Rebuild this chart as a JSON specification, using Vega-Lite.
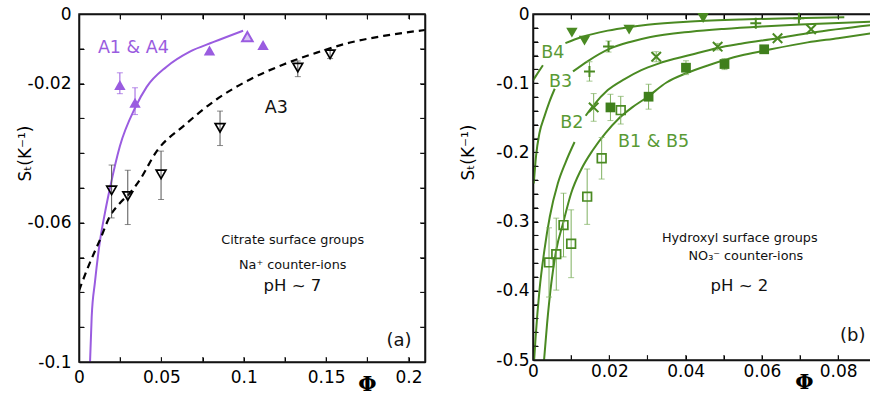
{
  "$schema": "https://vega.github.io/schema/vega-lite/v6.json",
  "background": "white",
  "padding": {"left": 16, "top": 5, "right": 0, "bottom": 0},
  "spacing": 33,
  "datasets": {
    "pts": [
      {"p":"a","s":"A1","x":0.0248,"y":-0.0204,"lo":-0.0229,"hi":-0.0169},
      {"p":"a","s":"A1","x":0.034,"y":-0.0255,"lo":-0.0289,"hi":-0.0212},
      {"p":"a","s":"A1","x":0.0792,"y":-0.0105},
      {"p":"a","s":"A1","x":0.1117,"y":-0.0089},
      {"p":"a","s":"A4","x":0.1022,"y":-0.0065},
      {"p":"a","s":"A3","x":0.0198,"y":-0.0507,"lo":-0.0586,"hi":-0.0434},
      {"p":"a","s":"A3","x":0.0296,"y":-0.0523,"lo":-0.0605,"hi":-0.0449},
      {"p":"a","s":"A3","x":0.0498,"y":-0.0461,"lo":-0.0533,"hi":-0.0394},
      {"p":"a","s":"A3","x":0.0856,"y":-0.0327,"lo":-0.0378,"hi":-0.0279},
      {"p":"a","s":"A3","x":0.1328,"y":-0.0154,"lo":-0.018,"hi":-0.0135},
      {"p":"a","s":"A3","x":0.1524,"y":-0.0116,"lo":-0.0128,"hi":-0.0104},
      {"p":"b","s":"B4","x":0.0102,"y":-0.027},
      {"p":"b","s":"B4","x":0.0135,"y":-0.0385},
      {"p":"b","s":"B4","x":0.0252,"y":-0.0225},
      {"p":"b","s":"B4","x":0.0446,"y":-0.0058},
      {"p":"b","s":"B3","x":0.0148,"y":-0.083,"lo":-0.097,"hi":-0.069},
      {"p":"b","s":"B3","x":0.0198,"y":-0.047,"lo":-0.055,"hi":-0.039},
      {"p":"b","s":"B3","x":0.0584,"y":-0.0135},
      {"p":"b","s":"B3","x":0.0697,"y":-0.006},
      {"p":"b","s":"B2","x":0.0159,"y":-0.135,"lo":-0.155,"hi":-0.115},
      {"p":"b","s":"B2","x":0.0323,"y":-0.0617,"lo":-0.069,"hi":-0.0545},
      {"p":"b","s":"B2","x":0.0484,"y":-0.0472,"lo":-0.052,"hi":-0.0425},
      {"p":"b","s":"B2","x":0.0641,"y":-0.0351},
      {"p":"b","s":"B2","x":0.0729,"y":-0.0221},
      {"p":"b","s":"B1","x":0.0203,"y":-0.135,"lo":-0.154,"hi":-0.116},
      {"p":"b","s":"B1","x":0.0303,"y":-0.1195,"lo":-0.1375,"hi":-0.1015},
      {"p":"b","s":"B1","x":0.0401,"y":-0.0776,"lo":-0.0876,"hi":-0.0676},
      {"p":"b","s":"B1","x":0.0502,"y":-0.0723,"lo":-0.0803,"hi":-0.0643},
      {"p":"b","s":"B1","x":0.0606,"y":-0.051,"lo":-0.055,"hi":-0.047},
      {"p":"b","s":"B5","x":0.0042,"y":-0.359,"lo":-0.409,"hi":-0.309},
      {"p":"b","s":"B5","x":0.0061,"y":-0.347,"lo":-0.399,"hi":-0.295},
      {"p":"b","s":"B5","x":0.008,"y":-0.305,"lo":-0.351,"hi":-0.259},
      {"p":"b","s":"B5","x":0.01,"y":-0.332,"lo":-0.381,"hi":-0.283},
      {"p":"b","s":"B5","x":0.0142,"y":-0.264,"lo":-0.304,"hi":-0.224},
      {"p":"b","s":"B5","x":0.018,"y":-0.2085,"lo":-0.2385,"hi":-0.1785},
      {"p":"b","s":"B5","x":0.023,"y":-0.139,"lo":-0.159,"hi":-0.119}
    ],
    "ticks": [
      {"p":"a","ax":"x","v":0.025},{"p":"a","ax":"x","v":0.05},{"p":"a","ax":"x","v":0.075},{"p":"a","ax":"x","v":0.1},
      {"p":"a","ax":"x","v":0.125},{"p":"a","ax":"x","v":0.15},{"p":"a","ax":"x","v":0.175},{"p":"a","ax":"x","v":0.2},
      {"p":"a","ax":"y","v":-0.01},{"p":"a","ax":"y","v":-0.02},{"p":"a","ax":"y","v":-0.03},{"p":"a","ax":"y","v":-0.04},
      {"p":"a","ax":"y","v":-0.05},{"p":"a","ax":"y","v":-0.06},{"p":"a","ax":"y","v":-0.07},{"p":"a","ax":"y","v":-0.08},
      {"p":"a","ax":"y","v":-0.09},
      {"p":"b","ax":"x","v":0.01},{"p":"b","ax":"x","v":0.02},{"p":"b","ax":"x","v":0.03},{"p":"b","ax":"x","v":0.04},
      {"p":"b","ax":"x","v":0.05},{"p":"b","ax":"x","v":0.06},{"p":"b","ax":"x","v":0.07},{"p":"b","ax":"x","v":0.08},
      {"p":"b","ax":"y","v":-0.02},{"p":"b","ax":"y","v":-0.04},{"p":"b","ax":"y","v":-0.06},{"p":"b","ax":"y","v":-0.08},
      {"p":"b","ax":"y","v":-0.1},{"p":"b","ax":"y","v":-0.12},{"p":"b","ax":"y","v":-0.14},{"p":"b","ax":"y","v":-0.16},
      {"p":"b","ax":"y","v":-0.18},{"p":"b","ax":"y","v":-0.2},{"p":"b","ax":"y","v":-0.22},{"p":"b","ax":"y","v":-0.24},
      {"p":"b","ax":"y","v":-0.26},{"p":"b","ax":"y","v":-0.28},{"p":"b","ax":"y","v":-0.3},{"p":"b","ax":"y","v":-0.32},
      {"p":"b","ax":"y","v":-0.34},{"p":"b","ax":"y","v":-0.36},{"p":"b","ax":"y","v":-0.38},{"p":"b","ax":"y","v":-0.4},
      {"p":"b","ax":"y","v":-0.42},{"p":"b","ax":"y","v":-0.44},{"p":"b","ax":"y","v":-0.46},{"p":"b","ax":"y","v":-0.48}
    ],
    "frames": [
      {"p":"a","x0":0,"x1":0.21,"y0":-0.1,"y1":0},
      {"p":"b","x0":0,"x1":0.0886,"y0":-0.5,"y1":0}
    ],
    "curves": [
      {"p":"a","seg":"A1","x":0.0067,"y":-0.1},
      {"p":"a","seg":"A1","x":0.0077,"y":-0.087},
      {"p":"a","seg":"A1","x":0.0097,"y":-0.077},
      {"p":"a","seg":"A1","x":0.0128,"y":-0.065},
      {"p":"a","seg":"A1","x":0.0158,"y":-0.057},
      {"p":"a","seg":"A1","x":0.0188,"y":-0.050},
      {"p":"a","seg":"A1","x":0.0248,"y":-0.038},
      {"p":"a","seg":"A1","x":0.034,"y":-0.027},
      {"p":"a","seg":"A1","x":0.041,"y":-0.021},
      {"p":"a","seg":"A1","x":0.053,"y":-0.0152},
      {"p":"a","seg":"A1","x":0.0673,"y":-0.0108},
      {"p":"a","seg":"A1","x":0.0814,"y":-0.0081},
      {"p":"a","seg":"A1","x":0.0996,"y":-0.0048},
      {"p":"a","seg":"A3","x":0.0,"y":-0.0795},
      {"p":"a","seg":"A3","x":0.0057,"y":-0.0725},
      {"p":"a","seg":"A3","x":0.0128,"y":-0.0648},
      {"p":"a","seg":"A3","x":0.0188,"y":-0.0581},
      {"p":"a","seg":"A3","x":0.0249,"y":-0.0543},
      {"p":"a","seg":"A3","x":0.031,"y":-0.0514},
      {"p":"a","seg":"A3","x":0.037,"y":-0.0476},
      {"p":"a","seg":"A3","x":0.0472,"y":-0.0394},
      {"p":"a","seg":"A3","x":0.0634,"y":-0.0322},
      {"p":"a","seg":"A3","x":0.0836,"y":-0.0245},
      {"p":"a","seg":"A3","x":0.1038,"y":-0.0188},
      {"p":"a","seg":"A3","x":0.1241,"y":-0.0145},
      {"p":"a","seg":"A3","x":0.1443,"y":-0.0111},
      {"p":"a","seg":"A3","x":0.1646,"y":-0.0082},
      {"p":"a","seg":"A3","x":0.1848,"y":-0.0063},
      {"p":"a","seg":"A3","x":0.21,"y":-0.0046},
      {"p":"b","seg":"B4a","x":0.0,"y":-0.096},
      {"p":"b","seg":"B4a","x":0.0013,"y":-0.085},
      {"p":"b","seg":"B4a","x":0.0026,"y":-0.074},
      {"p":"b","seg":"B4b","x":0.0085,"y":-0.042},
      {"p":"b","seg":"B4b","x":0.0126,"y":-0.0335},
      {"p":"b","seg":"B4b","x":0.0196,"y":-0.024},
      {"p":"b","seg":"B4b","x":0.025,"y":-0.019},
      {"p":"b","seg":"B4b","x":0.03,"y":-0.0155},
      {"p":"b","seg":"B4b","x":0.0414,"y":-0.0108},
      {"p":"b","seg":"B4b","x":0.0545,"y":-0.0078},
      {"p":"b","seg":"B4b","x":0.068,"y":-0.006},
      {"p":"b","seg":"B4b","x":0.0816,"y":-0.0048},
      {"p":"b","seg":"B3a","x":0.0002,"y":-0.245},
      {"p":"b","seg":"B3a","x":0.0008,"y":-0.205},
      {"p":"b","seg":"B3a","x":0.0017,"y":-0.172},
      {"p":"b","seg":"B3a","x":0.003,"y":-0.148},
      {"p":"b","seg":"B3a","x":0.0043,"y":-0.127},
      {"p":"b","seg":"B3a","x":0.0057,"y":-0.108},
      {"p":"b","seg":"B3b","x":0.0105,"y":-0.083},
      {"p":"b","seg":"B3b","x":0.0144,"y":-0.068},
      {"p":"b","seg":"B3b","x":0.020,"y":-0.0505},
      {"p":"b","seg":"B3b","x":0.0257,"y":-0.040},
      {"p":"b","seg":"B3b","x":0.0305,"y":-0.0335},
      {"p":"b","seg":"B3b","x":0.0414,"y":-0.0255},
      {"p":"b","seg":"B3b","x":0.05,"y":-0.0215},
      {"p":"b","seg":"B3b","x":0.06,"y":-0.018},
      {"p":"b","seg":"B3b","x":0.07,"y":-0.0152},
      {"p":"b","seg":"B3b","x":0.08,"y":-0.013},
      {"p":"b","seg":"B3b","x":0.0886,"y":-0.0113},
      {"p":"b","seg":"B2a","x":0.0003,"y":-0.5},
      {"p":"b","seg":"B2a","x":0.0007,"y":-0.466},
      {"p":"b","seg":"B2a","x":0.0017,"y":-0.399},
      {"p":"b","seg":"B2a","x":0.003,"y":-0.341},
      {"p":"b","seg":"B2a","x":0.0044,"y":-0.293},
      {"p":"b","seg":"B2a","x":0.0065,"y":-0.245},
      {"p":"b","seg":"B2a","x":0.0085,"y":-0.215},
      {"p":"b","seg":"B2a","x":0.0109,"y":-0.185},
      {"p":"b","seg":"B2b","x":0.0138,"y":-0.147},
      {"p":"b","seg":"B2b","x":0.0157,"y":-0.133},
      {"p":"b","seg":"B2b","x":0.0196,"y":-0.11},
      {"p":"b","seg":"B2b","x":0.024,"y":-0.094},
      {"p":"b","seg":"B2b","x":0.0284,"y":-0.081},
      {"p":"b","seg":"B2b","x":0.0327,"y":-0.072},
      {"p":"b","seg":"B2b","x":0.0414,"y":-0.059},
      {"p":"b","seg":"B2b","x":0.0484,"y":-0.049},
      {"p":"b","seg":"B2b","x":0.0545,"y":-0.043},
      {"p":"b","seg":"B2b","x":0.0641,"y":-0.035},
      {"p":"b","seg":"B2b","x":0.0729,"y":-0.027},
      {"p":"b","seg":"B2b","x":0.0886,"y":-0.016},
      {"p":"b","seg":"B1","x":0.0029,"y":-0.5},
      {"p":"b","seg":"B1","x":0.0037,"y":-0.447},
      {"p":"b","seg":"B1","x":0.0048,"y":-0.389},
      {"p":"b","seg":"B1","x":0.0061,"y":-0.341},
      {"p":"b","seg":"B1","x":0.0079,"y":-0.302},
      {"p":"b","seg":"B1","x":0.01,"y":-0.259},
      {"p":"b","seg":"B1","x":0.0126,"y":-0.225},
      {"p":"b","seg":"B1","x":0.0157,"y":-0.1965},
      {"p":"b","seg":"B1","x":0.019,"y":-0.172},
      {"p":"b","seg":"B1","x":0.0223,"y":-0.152},
      {"p":"b","seg":"B1","x":0.026,"y":-0.135},
      {"p":"b","seg":"B1","x":0.03,"y":-0.12},
      {"p":"b","seg":"B1","x":0.035,"y":-0.099},
      {"p":"b","seg":"B1","x":0.04,"y":-0.086},
      {"p":"b","seg":"B1","x":0.046,"y":-0.074},
      {"p":"b","seg":"B1","x":0.0545,"y":-0.060},
      {"p":"b","seg":"B1","x":0.0606,"y":-0.053},
      {"p":"b","seg":"B1","x":0.072,"y":-0.041},
      {"p":"b","seg":"B1","x":0.08,"y":-0.035},
      {"p":"b","seg":"B1","x":0.0886,"y":-0.028}
    ],
    "labels": [
      {"p":"a","k":"A1","t":"A1 & A4","x":0.033,"y":-0.0098},
      {"p":"a","k":"A3","t":"A3","x":0.1198,"y":-0.0269},
      {"p":"a","k":"note","t":"Citrate surface groups","x":0.1297,"y":-0.065},
      {"p":"a","k":"note","t":"Na⁺ counter-ions","x":0.1297,"y":-0.0721},
      {"p":"a","k":"ph","t":"pH ~ 7","x":0.1295,"y":-0.0782},
      {"p":"a","k":"panel","t":"(a)","x":0.1942,"y":-0.094},
      {"p":"b","k":"series","t":"B4","x":0.0052,"y":-0.0568},
      {"p":"b","k":"series","t":"B3","x":0.0072,"y":-0.0978},
      {"p":"b","k":"series","t":"B2","x":0.0102,"y":-0.158},
      {"p":"b","k":"series","t":"B1 & B5","x":0.0316,"y":-0.1845},
      {"p":"b","k":"note","t":"Hydroxyl surface groups","x":0.0542,"y":-0.324},
      {"p":"b","k":"note","t":"NO₃⁻ counter-ions","x":0.0558,"y":-0.35},
      {"p":"b","k":"ph","t":"pH ~ 2","x":0.0541,"y":-0.393},
      {"p":"b","k":"panel","t":"(b)","x":0.0838,"y":-0.466}
    ]
  },
  "hconcat": [
    {
      "width": 346,
      "height": 348,
      "layer": [
        {
          "data": {"name": "curves"},
          "transform": [{"filter": "datum.seg=='A1'"}],
          "mark": {"type": "line", "clip": true, "strokeWidth": 2, "color": "#9a5ce0", "interpolate": "monotone"},
          "encoding": {
            "x": {"field": "x", "type": "quantitative", "scale": {"domain": [0, 0.21], "nice": false, "zero": false},
              "axis": {"orient": "bottom", "values": [0,0.025,0.05,0.075,0.1,0.125,0.15,0.175,0.2],
                "labelExpr": "round(datum.value*1000)%50==0 ? toString(round(datum.value*100)/100) : ''",
                "labelFontSize": 17, "labelPadding": 12,
                "title": "Φ", "titleX": 288, "titleY": 22}},
            "y": {"field": "y", "type": "quantitative", "scale": {"domain": [-0.1, 0], "nice": false, "zero": false},
              "axis": {"orient": "left", "values": [0,-0.01,-0.02,-0.03,-0.04,-0.05,-0.06,-0.07,-0.08,-0.09,-0.1],
                "labelExpr": "(round(datum.value*100)==0 || round(datum.value*100)==-2 || round(datum.value*100)==-6 || round(datum.value*100)==-10) ? toString(round(datum.value*100)/100) : ''",
                "labelFontSize": 17, "labelPadding": 13,
                "title": "Sₜ(K⁻¹)", "titleX": -54, "titleY": 139}}
          }
        },
        {
          "data": {"name": "curves"},
          "transform": [{"filter": "datum.seg=='A3'"}],
          "mark": {"type": "line", "clip": true, "strokeWidth": 2.2, "color": "black", "strokeDash": [7, 5], "interpolate": "monotone"},
          "encoding": {
            "x": {"field": "x", "type": "quantitative", "scale": {"domain": [0, 0.21], "nice": false, "zero": false},
              "axis": {"orient": "top", "labels": false, "title": null, "values": [0,0.025,0.05,0.075,0.1,0.125,0.15,0.175,0.2]}},
            "y": {"field": "y", "type": "quantitative", "scale": {"domain": [-0.1, 0], "nice": false, "zero": false},
              "axis": {"orient": "right", "labels": false, "title": null, "values": [0,-0.01,-0.02,-0.03,-0.04,-0.05,-0.06,-0.07,-0.08,-0.09,-0.1]}}
          }
        },
        {
          "data": {"name": "frames"},
          "transform": [{"filter": "datum.p=='a'"}],
          "mark": {"type": "rect", "fill": null, "fillOpacity": 0, "stroke": "#1a1a1a", "strokeWidth": 1.5},
          "encoding": {
            "x": {"field": "x0", "type": "quantitative", "axis": null},
            "x2": {"field": "x1"},
            "y": {"field": "y0", "type": "quantitative", "axis": null},
            "y2": {"field": "y1"}
          }
        },
        {
          "data": {"name": "ticks"},
          "transform": [{"filter": "datum.p=='a' && datum.ax=='x'"}],
          "mark": {"type": "tick", "orient": "vertical", "size": 5, "thickness": 1.2, "color": "#1a1a1a", "yOffset": -2.5},
          "encoding": {
            "x": {"field": "v", "type": "quantitative", "axis": null},
            "y": {"datum": -0.1, "type": "quantitative", "axis": null}
          }
        },
        {
          "data": {"name": "ticks"},
          "transform": [{"filter": "datum.p=='a' && datum.ax=='x'"}],
          "mark": {"type": "tick", "orient": "vertical", "size": 5, "thickness": 1.2, "color": "#1a1a1a", "yOffset": 2.5},
          "encoding": {
            "x": {"field": "v", "type": "quantitative", "axis": null},
            "y": {"datum": 0, "type": "quantitative", "axis": null}
          }
        },
        {
          "data": {"name": "ticks"},
          "transform": [{"filter": "datum.p=='a' && datum.ax=='y'"}],
          "mark": {"type": "tick", "orient": "horizontal", "size": 5, "thickness": 1.2, "color": "#1a1a1a", "xOffset": 2.5},
          "encoding": {
            "x": {"datum": 0, "type": "quantitative", "axis": null},
            "y": {"field": "v", "type": "quantitative", "axis": null}
          }
        },
        {
          "data": {"name": "ticks"},
          "transform": [{"filter": "datum.p=='a' && datum.ax=='y'"}],
          "mark": {"type": "tick", "orient": "horizontal", "size": 5, "thickness": 1.2, "color": "#1a1a1a", "xOffset": -2.5},
          "encoding": {
            "x": {"datum": 0.21, "type": "quantitative", "axis": null},
            "y": {"field": "v", "type": "quantitative", "axis": null}
          }
        },
        {
          "data": {"name": "pts"},
          "transform": [{"filter": "datum.p=='a' && isValid(datum.lo)"}],
          "mark": {"type": "rule", "strokeWidth": 1},
          "encoding": {
            "x": {"field": "x", "type": "quantitative", "axis": null},
            "y": {"field": "lo", "type": "quantitative", "axis": null},
            "y2": {"field": "hi"},
            "color": {"condition": {"test": "datum.s=='A3'", "value": "#555555"}, "value": "#9a5ce0"}
          }
        },
        {
          "data": {"name": "pts"},
          "transform": [{"filter": "datum.p=='a' && isValid(datum.lo)"}],
          "mark": {"type": "tick", "orient": "horizontal", "size": 6, "thickness": 1},
          "encoding": {
            "x": {"field": "x", "type": "quantitative", "axis": null},
            "y": {"field": "lo", "type": "quantitative", "axis": null},
            "color": {"condition": {"test": "datum.s=='A3'", "value": "#555555"}, "value": "#9a5ce0"}
          }
        },
        {
          "data": {"name": "pts"},
          "transform": [{"filter": "datum.p=='a' && isValid(datum.lo)"}],
          "mark": {"type": "tick", "orient": "horizontal", "size": 6, "thickness": 1},
          "encoding": {
            "x": {"field": "x", "type": "quantitative", "axis": null},
            "y": {"field": "hi", "type": "quantitative", "axis": null},
            "color": {"condition": {"test": "datum.s=='A3'", "value": "#555555"}, "value": "#9a5ce0"}
          }
        },
        {
          "data": {"name": "pts"},
          "transform": [{"filter": "datum.s=='A1'"}],
          "mark": {"type": "point", "shape": "triangle-up", "filled": true, "color": "#9a5ce0", "size": 130, "opacity": 1},
          "encoding": {
            "x": {"field": "x", "type": "quantitative", "axis": null},
            "y": {"field": "y", "type": "quantitative", "axis": null}
          }
        },
        {
          "data": {"name": "pts"},
          "transform": [{"filter": "datum.s=='A4'"}],
          "mark": {"type": "point", "shape": "triangle-up", "filled": true, "fill": "#d9c3f5", "stroke": "#9a5ce0", "strokeWidth": 2, "size": 110, "opacity": 1},
          "encoding": {
            "x": {"field": "x", "type": "quantitative", "axis": null},
            "y": {"field": "y", "type": "quantitative", "axis": null}
          }
        },
        {
          "data": {"name": "pts"},
          "transform": [{"filter": "datum.s=='A3'"}],
          "mark": {"type": "point", "shape": "triangle-down", "filled": false, "color": "black", "strokeWidth": 1.7, "size": 95, "opacity": 1},
          "encoding": {
            "x": {"field": "x", "type": "quantitative", "axis": null},
            "y": {"field": "y", "type": "quantitative", "axis": null}
          }
        },
        {
          "data": {"name": "labels"},
          "transform": [{"filter": "datum.p=='a'"}],
          "mark": {"type": "text", "font": "DejaVu Sans", "align": "center", "baseline": "middle"},
          "encoding": {
            "x": {"field": "x", "type": "quantitative", "axis": null},
            "y": {"field": "y", "type": "quantitative", "axis": null},
            "text": {"field": "t"},
            "color": {"condition": {"test": "datum.k=='A1'", "value": "#9a5ce0"}, "value": "#111111"},
            "size": {"condition": [{"test": "datum.k=='note'", "value": 12.8}, {"test": "datum.k=='ph'", "value": 16.5}, {"test": "datum.k=='panel'", "value": 18}], "value": 17.5}
          }
        }
      ],
      "resolve": {"axis": {"x": "independent", "y": "independent"}}
    },
    {
      "width": 338,
      "height": 346,
      "layer": [
        {
          "data": {"name": "curves"},
          "transform": [{"filter": "datum.p=='b'"}],
          "mark": {"type": "line", "clip": true, "strokeWidth": 2, "color": "#4a8a22", "interpolate": "monotone"},
          "encoding": {
            "x": {"field": "x", "type": "quantitative", "scale": {"domain": [0, 0.0886], "nice": false, "zero": false},
              "axis": {"orient": "bottom", "values": [0,0.01,0.02,0.03,0.04,0.05,0.06,0.07,0.08],
                "labelExpr": "round(datum.value*100)%2==0 ? toString(round(datum.value*100)/100) : ''",
                "labelFontSize": 17, "labelPadding": 8,
                "title": "Φ", "titleX": 271, "titleY": 22}},
            "y": {"field": "y", "type": "quantitative", "scale": {"domain": [-0.5, 0], "nice": false, "zero": false},
              "axis": {"orient": "left", "values": [0,-0.02,-0.04,-0.06,-0.08,-0.1,-0.12,-0.14,-0.16,-0.18,-0.2,-0.22,-0.24,-0.26,-0.28,-0.3,-0.32,-0.34,-0.36,-0.38,-0.4,-0.42,-0.44,-0.46,-0.48,-0.5],
                "labelExpr": "round(datum.value*100)%10==0 ? toString(round(datum.value*10)/10) : ''",
                "labelFontSize": 17, "labelPadding": 9,
                "title": "Sₜ(K⁻¹)", "titleX": -65, "titleY": 138}},
            "detail": {"field": "seg"}
          }
        },
        {
          "data": {"name": "pts"},
          "transform": [{"filter": "datum.p=='b'"}],
          "mark": {"type": "point", "opacity": 0},
          "encoding": {
            "x": {"field": "x", "type": "quantitative", "scale": {"domain": [0, 0.0886], "nice": false, "zero": false},
              "axis": {"orient": "top", "labels": false, "title": null, "values": [0,0.01,0.02,0.03,0.04,0.05,0.06,0.07,0.08]}},
            "y": {"field": "y", "type": "quantitative", "axis": null}
          }
        },
        {
          "data": {"name": "frames"},
          "transform": [{"filter": "datum.p=='b'"}],
          "mark": {"type": "rect", "fill": null, "fillOpacity": 0, "stroke": "#1a1a1a", "strokeWidth": 1.5},
          "encoding": {
            "x": {"field": "x0", "type": "quantitative", "axis": null},
            "x2": {"field": "x1"},
            "y": {"field": "y0", "type": "quantitative", "axis": null},
            "y2": {"field": "y1"}
          }
        },
        {
          "data": {"name": "ticks"},
          "transform": [{"filter": "datum.p=='b' && datum.ax=='x'"}],
          "mark": {"type": "tick", "orient": "vertical", "size": 5, "thickness": 1.2, "color": "#1a1a1a", "yOffset": -2.5},
          "encoding": {
            "x": {"field": "v", "type": "quantitative", "axis": null},
            "y": {"datum": -0.5, "type": "quantitative", "axis": null}
          }
        },
        {
          "data": {"name": "ticks"},
          "transform": [{"filter": "datum.p=='b' && datum.ax=='x'"}],
          "mark": {"type": "tick", "orient": "vertical", "size": 5, "thickness": 1.2, "color": "#1a1a1a", "yOffset": 2.5},
          "encoding": {
            "x": {"field": "v", "type": "quantitative", "axis": null},
            "y": {"datum": 0, "type": "quantitative", "axis": null}
          }
        },
        {
          "data": {"name": "ticks"},
          "transform": [{"filter": "datum.p=='b' && datum.ax=='y'"}],
          "mark": {"type": "tick", "orient": "horizontal", "size": 5, "thickness": 1.2, "color": "#1a1a1a", "xOffset": 2.5},
          "encoding": {
            "x": {"datum": 0, "type": "quantitative", "axis": null},
            "y": {"field": "v", "type": "quantitative", "axis": null}
          }
        },
        {
          "data": {"name": "pts"},
          "transform": [{"filter": "datum.p=='b' && isValid(datum.lo)"}],
          "mark": {"type": "rule", "strokeWidth": 1, "color": "#7fb060"},
          "encoding": {
            "x": {"field": "x", "type": "quantitative", "axis": null},
            "y": {"field": "lo", "type": "quantitative", "axis": null},
            "y2": {"field": "hi"}
          }
        },
        {
          "data": {"name": "pts"},
          "transform": [{"filter": "datum.p=='b' && isValid(datum.lo)"}],
          "mark": {"type": "tick", "orient": "horizontal", "size": 6, "thickness": 1, "color": "#7fb060"},
          "encoding": {
            "x": {"field": "x", "type": "quantitative", "axis": null},
            "y": {"field": "lo", "type": "quantitative", "axis": null}
          }
        },
        {
          "data": {"name": "pts"},
          "transform": [{"filter": "datum.p=='b' && isValid(datum.lo)"}],
          "mark": {"type": "tick", "orient": "horizontal", "size": 6, "thickness": 1, "color": "#7fb060"},
          "encoding": {
            "x": {"field": "x", "type": "quantitative", "axis": null},
            "y": {"field": "hi", "type": "quantitative", "axis": null}
          }
        },
        {
          "data": {"name": "pts"},
          "transform": [{"filter": "datum.s=='B4'"}],
          "mark": {"type": "point", "shape": "triangle-down", "filled": true, "color": "#4a8a22", "size": 130, "opacity": 1},
          "encoding": {
            "x": {"field": "x", "type": "quantitative", "axis": null},
            "y": {"field": "y", "type": "quantitative", "axis": null}
          }
        },
        {
          "data": {"name": "pts"},
          "transform": [{"filter": "datum.s=='B3'"}],
          "mark": {"type": "point", "shape": "M-1,0H1M0,-1V1", "filled": false, "color": "#4a8a22", "strokeWidth": 2, "size": 120, "opacity": 1},
          "encoding": {
            "x": {"field": "x", "type": "quantitative", "axis": null},
            "y": {"field": "y", "type": "quantitative", "axis": null}
          }
        },
        {
          "data": {"name": "pts"},
          "transform": [{"filter": "datum.s=='B2'"}],
          "mark": {"type": "point", "shape": "M-1,-1L1,1M-1,1L1,-1", "filled": false, "color": "#4a8a22", "strokeWidth": 2, "size": 90, "opacity": 1},
          "encoding": {
            "x": {"field": "x", "type": "quantitative", "axis": null},
            "y": {"field": "y", "type": "quantitative", "axis": null}
          }
        },
        {
          "data": {"name": "pts"},
          "transform": [{"filter": "datum.s=='B1'"}],
          "mark": {"type": "point", "shape": "square", "filled": true, "color": "#3f7f1c", "size": 95, "opacity": 1},
          "encoding": {
            "x": {"field": "x", "type": "quantitative", "axis": null},
            "y": {"field": "y", "type": "quantitative", "axis": null}
          }
        },
        {
          "data": {"name": "pts"},
          "transform": [{"filter": "datum.s=='B5'"}],
          "mark": {"type": "point", "shape": "square", "filled": false, "color": "#4a8a22", "strokeWidth": 1.7, "size": 75, "opacity": 1},
          "encoding": {
            "x": {"field": "x", "type": "quantitative", "axis": null},
            "y": {"field": "y", "type": "quantitative", "axis": null}
          }
        },
        {
          "data": {"name": "labels"},
          "transform": [{"filter": "datum.p=='b'"}],
          "mark": {"type": "text", "font": "DejaVu Sans", "align": "center", "baseline": "middle"},
          "encoding": {
            "x": {"field": "x", "type": "quantitative", "axis": null},
            "y": {"field": "y", "type": "quantitative", "axis": null},
            "text": {"field": "t"},
            "color": {"condition": {"test": "datum.k=='series'", "value": "#5a9a35"}, "value": "#111111"},
            "size": {"condition": [{"test": "datum.k=='note'", "value": 12.8}, {"test": "datum.k=='ph'", "value": 16.5}, {"test": "datum.k=='panel'", "value": 18}], "value": 17.5}
          }
        }
      ],
      "resolve": {"axis": {"x": "independent", "y": "independent"}}
    }
  ],
  "config": {
    "view": {"stroke": null},
    "axis": {
      "grid": false, "domain": true, "ticks": true, "tickSize": -5, "tickColor": "#000000", "tickWidth": 1, "domainColor": "#000000", "domainWidth": 1.5,
      "labelFont": "DejaVu Sans", "labelFontSize": 17, "labelColor": "black", "labelFlush": false, "labelOverlap": false,
      "titleColor": "black", "titleFontWeight": "normal"
    },
    "axisX": {"titleFont": "DejaVu Serif", "titleFontSize": 21, "titleFontWeight": "bold", "titleAlign": "center", "titleBaseline": "middle", "titleAnchor": null},
    "axisY": {"titleFont": "DejaVu Sans", "titleFontSize": 17, "titleAngle": -90, "titleAlign": "center", "titleBaseline": "middle", "titleAnchor": null}
  }
}
